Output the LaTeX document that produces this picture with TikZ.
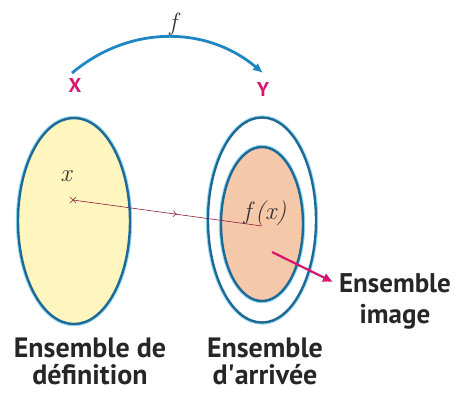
\documentclass[tikz,border=0pt]{standalone}
\usepackage{fontspec}
\setsansfont{PT Sans}
\usetikzlibrary{arrows.meta,shapes.geometric,decorations.markings}

\definecolor{bord}{RGB}{30,105,150}
\definecolor{halo}{RGB}{150,220,245}
\definecolor{bleu}{RGB}{30,135,195}
\definecolor{jaune}{RGB}{255,245,190}
\definecolor{peche}{RGB}{246,200,170}
\definecolor{rose}{RGB}{215,20,110}
\definecolor{trait}{RGB}{140,30,60}

\begin{document}
\begin{tikzpicture}[
  x=1pt, y=-1pt,
  set/.style={ellipse, draw=bord, line width=2.4pt, inner sep=0pt,
    preaction={draw=halo, line width=4.4pt}},
  lab/.style={font=\sffamily\bfseries\fontsize{28}{27}\selectfont, align=center, text=black!85},
  ens/.style={font=\sffamily\bfseries\fontsize{20}{20}\selectfont, text=rose},
  pt/.style={font=\rmfamily\itshape\fontsize{25}{25}\selectfont, text=black!80, inner sep=1pt},
  fleche/.style={-{Latex[length=10pt,width=9pt]}, line width=2.8pt, draw=bleu},
  lien/.style={draw=trait, line width=0.6pt,
    postaction={decorate},
    decoration={markings, mark=at position 0.55 with {\arrow{To[length=4pt,width=7pt]}}}},
  pointe/.style={-{Latex[length=10pt,width=10pt]}, line width=2.2pt, draw=rose}
]
\useasboundingbox (0,0) rectangle (455,392);

% Ensembles
\node[set, fill=jaune, minimum width=112pt, minimum height=206pt] (dep) at (74,221) {};
\node[set, fill=white, minimum width=108pt, minimum height=205pt] (arr) at (262,220) {};
\node[set, fill=peche, minimum width=82pt, minimum height=154pt] (img) at (262,224) {};

% Noms des ensembles
\node[ens] (X) at (75,85) {X};
\node[ens] (Y) at (263,89) {Y};
\coordinate (a0) at (72,73);
\coordinate (a1) at (263,73);
\draw[fleche] (a0) to[out=40, in=140] (a1);
\node[pt] (f) at (173,24) {f};

% Element et son image
\coordinate (x0) at (73,200);
\coordinate (fx0) at (262,226);
\node[pt] (x) at (66,176) {x};
\node[pt] (fx) at (265,213) {f\,(x)};
\draw[trait, line width=0.6pt] (x0) +(-3,-3) -- +(3,3) +(-3,3) -- +(3,-3);
\draw[lien] (x0) -- (fx0);

% Legendes
\node[lab] (def) at (90,361) {Ensemble de\\définition};
\node[lab] (arv) at (265,361) {Ensemble\\d\textquotesingle arrivée};
\node[lab, font=\sffamily\bfseries\fontsize{27}{31}\selectfont] (ima) at (395,301) {Ensemble\\image};
\coordinate (p0) at (272,252);
\coordinate (p1) at (333,282);
\draw[pointe] (p0) -- (p1);
\end{tikzpicture}
\end{document}
